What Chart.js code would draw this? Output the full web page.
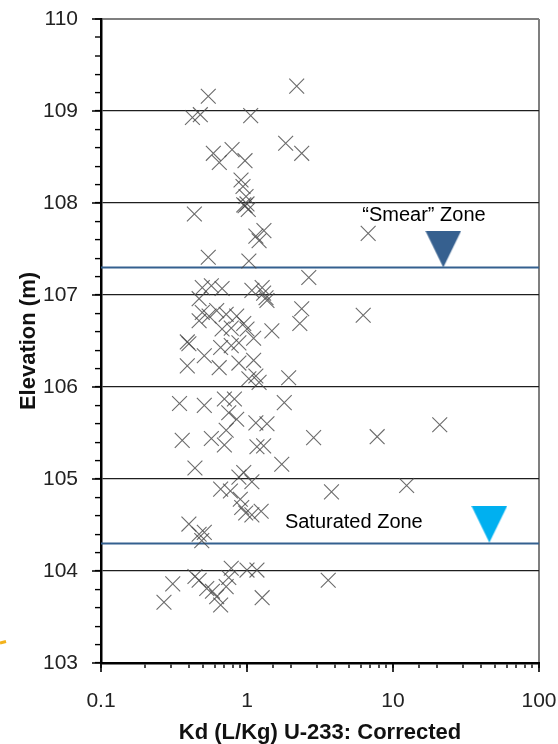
<!DOCTYPE html>
<html><head><meta charset="utf-8">
<script src="https://cdn.jsdelivr.net/npm/chart.js@4.4.1/dist/chart.umd.min.js"></script>
<style>html,body{margin:0;padding:0;background:#fff}#wrap{width:558px;height:744px;position:relative}</style>
</head><body><div id="wrap"><canvas id="c" width="558" height="744"></canvas></div>
<script>
// Kd (L/Kg) U-233 corrected values and their sample elevations (m)
const kdValues = [2.19,0.543,0.423,0.479,1.06,1.84,2.37,0.588,0.646,0.79,0.969,0.91,0.939,0.985,0.95,0.97,1.0,1.02,0.436,1.306,1.15,1.21,6.76,0.543,1.03,2.65,
0.494,0.57,0.675,0.47,1.08,1.27,1.35,1.37,1.3,2.37,2.3,0.494,0.62,0.55,0.47,0.72,0.85,0.78,0.675,0.95,1.0,1.48,6.25,0.39,0.40,0.66,0.78,0.88,1.11,0.51,0.39,0.645,0.88,1.11,1.03,1.15,1.21,1.93,
0.345,0.51,0.7,0.82,0.75,0.85,1.15,1.37,1.8,0.72,0.36,0.57,0.7,1.17,1.3,0.44,1.73,0.95,0.88,1.08,2.86,7.79,20.9,
3.79,12.4,0.66,0.77,0.9,0.92,0.98,1.08,1.25,0.40,0.47,0.51,0.49,
0.44,0.47,0.31,0.27,0.53,0.58,0.62,0.66,0.72,0.75,0.78,1.0,1.17,1.27,3.6];
const elevValues = [109.27,109.16,108.93,108.96,108.95,108.65,108.54,108.54,108.44,108.58,108.46,108.25,108.18,108.07,107.98,107.97,107.99,107.93,107.88,107.70,107.64,107.59,107.67,107.41,107.37,107.19,
107.08,107.10,107.07,106.96,107.05,107.08,106.97,106.94,107.02,106.85,106.69,106.81,106.83,106.77,106.72,106.79,106.77,106.64,106.63,106.69,106.63,106.61,106.78,106.49,106.47,106.43,106.45,106.48,106.53,106.34,106.23,106.21,106.26,106.29,106.09,106.12,106.05,106.10,
105.82,105.80,105.87,105.87,105.72,105.65,105.61,105.60,105.83,105.53,105.42,105.44,105.37,105.35,105.36,105.12,105.16,105.07,105.02,104.97,105.45,105.46,105.59,
104.86,104.93,104.89,104.87,104.78,104.69,104.63,104.61,104.65,104.51,104.40,104.42,104.33,
103.94,103.90,103.86,103.66,103.81,103.78,103.72,103.63,103.83,103.93,104.03,104.01,104.01,103.71,103.90];

// Zone boundaries (elevation, m)
const zoneNames = ['\u201cSmear\u201d Zone', 'Saturated Zone'];
const zoneElevations = [107.3, 104.3];
// water-level marker positions [Kd, elevation]
const zoneMarkerKd = [22.1, 45.7];
const zoneMarkerElev = [107.5, 104.51];
// zone label anchor [Kd, elevation]
const zoneLabelKd = [16.3, 5.39];
const zoneLabelElev = [107.86, 104.53];

// Axis ranges / ticks
const xRange = [0.1, 100];
const yRange = [103, 110];
const yMinorStep = 0.2;

const FONT = '"Liberation Sans", Arial, sans-serif';

function triangleImage(color){
  const c = document.createElement('canvas');
  c.width = 36; c.height = 37;
  const g = c.getContext('2d');
  g.fillStyle = color;
  g.beginPath(); g.moveTo(0,0); g.lineTo(36,0); g.lineTo(18,37); g.closePath(); g.fill();
  return c;
}
const isInt = v => Math.abs(v - Math.round(v)) < 1e-6;
const isPow10 = v => { const l = Math.log10(v); return Math.abs(l - Math.round(l)) < 1e-6; };

const points = kdValues.map((k,i)=>({x:k, y:elevValues[i]}));

const zoneLabels = {
  id:'zoneLabels',
  afterDatasetsDraw(chart){
    const {ctx, scales:{x,y}} = chart;
    ctx.save();
    ctx.fillStyle = '#000';
    ctx.font = '20px ' + FONT;
    ctx.textAlign = 'center';
    ctx.textBaseline = 'middle';
    zoneNames.forEach((n,i)=>{
      ctx.fillText(n, x.getPixelForValue(zoneLabelKd[i]), y.getPixelForValue(zoneLabelElev[i]));
    });
    ctx.restore();
  }
};
const majorTicks = {
  id:'majorTicks',
  afterDraw(chart){
    const {ctx, scales:{x,y}} = chart;
    ctx.save();
    ctx.strokeStyle = '#000'; ctx.lineWidth = 1.6;
    ctx.beginPath();
    x.ticks.forEach(t=>{ if (isPow10(t.value)) { const p = Math.round(x.getPixelForValue(t.value)); ctx.moveTo(p, x.top); ctx.lineTo(p, x.top + 9); } });
    y.ticks.forEach(t=>{ if (isInt(t.value)) { const p = Math.round(y.getPixelForValue(t.value)); ctx.moveTo(y.right - 9, p); ctx.lineTo(y.right, p); } });
    ctx.stroke();
    // small orange fragment at left edge
    ctx.strokeStyle = '#f3b21b'; ctx.lineWidth = 3;
    ctx.beginPath(); ctx.moveTo(0, 643); ctx.lineTo(6, 641.5); ctx.stroke();
    ctx.restore();
  }
};

new Chart(document.getElementById('c'), {
  type: 'scatter',
  data: {
    datasets: [
      { label:'Kd', data: points, pointStyle:'crossRot', pointRadius:10.5, borderColor:'rgba(70,70,70,0.8)', borderWidth:1.1, backgroundColor:'transparent' },
      { type:'line', label:'smear', data: zoneElevations.slice(0,1).flatMap(e=>[{x:xRange[0],y:e},{x:xRange[1],y:e}]), borderColor:'#34608f', borderWidth:2, pointRadius:0 },
      { type:'line', label:'sat', data: zoneElevations.slice(1,2).flatMap(e=>[{x:xRange[0],y:e},{x:xRange[1],y:e}]), borderColor:'#34608f', borderWidth:2, pointRadius:0 },
      { label:'m1', data:[{x:zoneMarkerKd[0], y:zoneMarkerElev[0]}], pointStyle: triangleImage('#36608f'), pointRadius:18 },
      { label:'m2', data:[{x:zoneMarkerKd[1], y:zoneMarkerElev[1]}], pointStyle: triangleImage('#00b0f0'), pointRadius:18 }
    ]
  },
  options: {
    responsive:false, animation:false, devicePixelRatio:1, events:[],
    layout:{ padding:{ top:17, right:16, left:0, bottom:0 } },
    plugins:{ legend:{display:false}, tooltip:{enabled:false} },
    scales:{
      x:{
        type:'logarithmic', min:xRange[0], max:xRange[1],
        afterFit(s){ s.height = 81; s.paddingLeft = 0; s.paddingRight = 0; },
        border:{ display:true, color:'#000', width:2.5 },
        grid:{ drawTicks:true, tickLength:5, tickColor:'#000', tickWidth:1.4,
               color: c => (c.tick && Math.abs(c.tick.value - xRange[1]) < 1e-6) ? '#7f7f7f' : 'rgba(0,0,0,0)',
               lineWidth:2 },
        ticks:{ autoSkip:false, maxRotation:0, minRotation:0, padding:21, color:'#222',
                font:{ family:FONT, size:21 },
                callback: v => isPow10(v) ? String(v) : '' },
        title:{ display:true, text:'Kd (L/Kg) U-233: Corrected', color:'#111',
                font:{ family:FONT, size:22, weight:'bold', lineHeight:1 }, padding:{top:0,bottom:0} }
      },
      y:{
        type:'linear', min:yRange[0], max:yRange[1],
        afterFit(s){ s.width = 101; s.paddingTop = 0; s.paddingBottom = 0; },
        border:{ display:true, color:'#000', width:2.5 },
        grid:{ drawTicks:true, tickLength:6, tickColor:'#000', tickWidth:1.4,
               color: c => { const v = c.tick ? c.tick.value : 0; if (!isInt(v)) return 'rgba(0,0,0,0)'; return Math.round(v) === yRange[1] ? '#7f7f7f' : '#1e1e1e'; },
               lineWidth: c => { const v = c.tick ? c.tick.value : 0; return Math.round(v) === yRange[1] ? 2 : 1.2; } },
        ticks:{ stepSize:yMinorStep, autoSkip:false, padding:17, color:'#222',
                font:{ family:FONT, size:21 },
                callback: v => isInt(v) ? String(Math.round(v)) : '' },
        title:{ display:true, text:'Elevation (m)', color:'#111',
                font:{ family:FONT, size:22, weight:'bold', lineHeight:1.2 }, padding:{top:16,bottom:0} }
      }
    }
  },
  plugins:[zoneLabels, majorTicks]
});
</script>
</body></html>
